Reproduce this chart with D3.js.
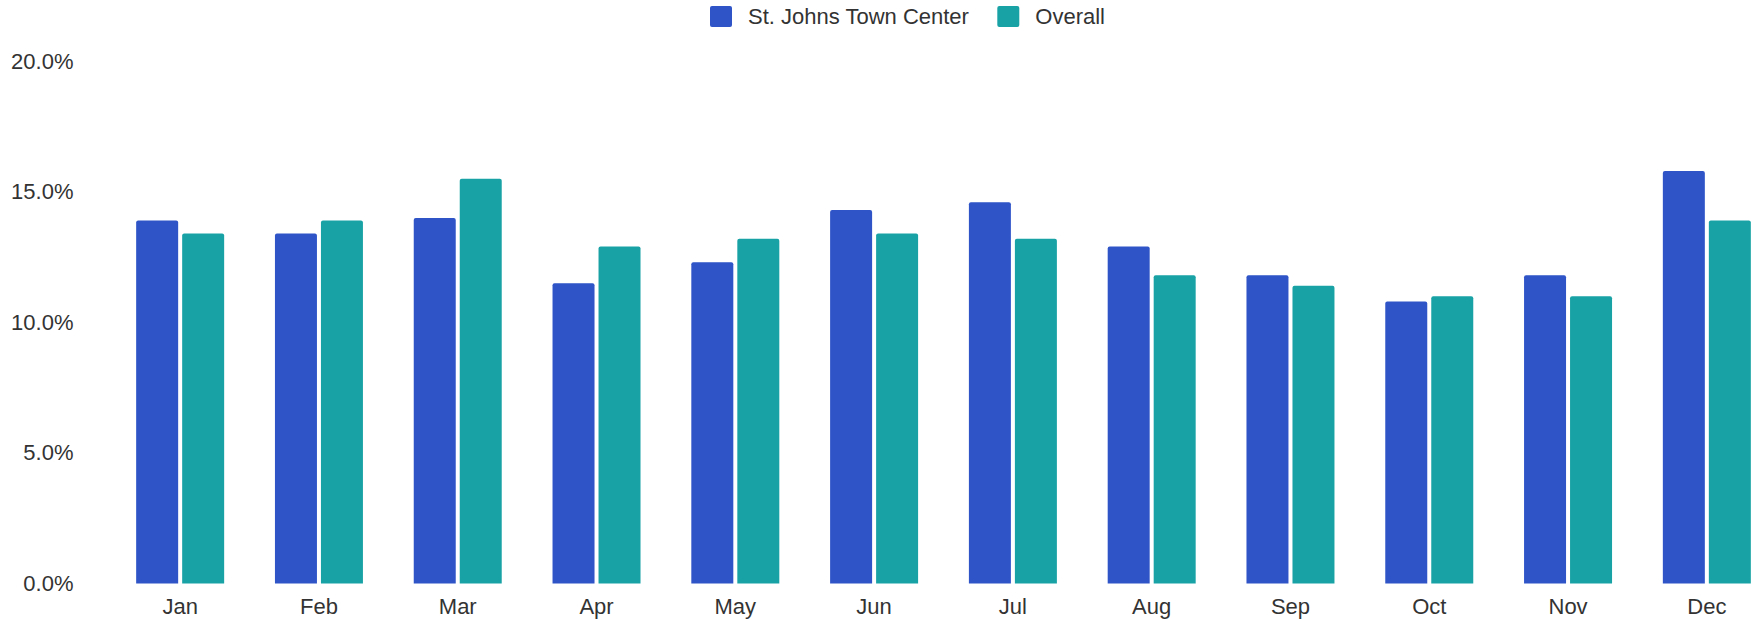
<!DOCTYPE html>
<html>
<head>
<meta charset="utf-8">
<script src="https://cdn.jsdelivr.net/npm/d3@7"></script>
<style>
  body { margin: 0; background: #fff; }
  text { font-family: Arial, "Liberation Sans", sans-serif; fill: #333; }
</style>
</head>
<body>
<svg width="1755" height="619"></svg>
<script>
var months = ["Jan", "Feb", "Mar", "Apr", "May", "Jun", "Jul", "Aug", "Sep", "Oct", "Nov", "Dec"];
var seriesNames = ["St. Johns Town Center", "Overall"];
var townCenter = [13.9, 13.4, 14.0, 11.5, 12.3, 14.3, 14.6, 12.9, 11.8, 10.8, 11.8, 15.8];
var overall = [13.4, 13.9, 15.5, 12.9, 13.2, 13.4, 13.2, 11.8, 11.4, 11.0, 11.0, 13.9];
var yTicks = [0, 5, 10, 15, 20];
var colors = ["#2e54c8", "#19a2a5"];

var svg = d3.select("svg"),
  width = +svg.attr("width"),
  height = +svg.attr("height")

var x = d3.scaleBand().domain(months).range([132, width]).paddingInner(0.366).paddingOuter(0.03);
var xs = d3.scaleBand().domain(seriesNames).range([0, x.bandwidth()]).paddingInner(0.087);
var y = d3.scaleLinear().domain([0, 20]).range([583.5, 61.2]);

// y axis labels only, no line, no grid
var yAxis = d3.axisLeft(y).tickValues(yTicks).tickSize(0).tickPadding(0)
  .tickFormat(function (d) { return d.toFixed(1) + "%"; });
var gy = svg.append("g").attr("transform", "translate(73.5,0)").call(yAxis);
gy.select(".domain").remove();
gy.attr("font-size", null).attr("font-family", null);
gy.selectAll("text").attr("font-size", 22);

var xAxis = d3.axisBottom(x).tickSize(0).tickPadding(0);
var gx = svg.append("g").attr("transform", "translate(0,598)").call(xAxis);
gx.select(".domain").remove();
gx.attr("font-size", null).attr("font-family", null);
gx.selectAll("text").attr("font-size", 22);

// bars with rounded top corners
function topRounded(x0, y0, w, h, r) {
  r = Math.min(r, h);
  return "M" + x0 + "," + (y0 + h) +
    "V" + (y0 + r) + "Q" + x0 + "," + y0 + " " + (x0 + r) + "," + y0 +
    "H" + (x0 + w - r) + "Q" + (x0 + w) + "," + y0 + " " + (x0 + w) + "," + (y0 + r) +
    "V" + (y0 + h) + "Z";
}

var rows = months.map(function (m, i) {
  return { month: m, values: [
    { key: seriesNames[0], value: townCenter[i] },
    { key: seriesNames[1], value: overall[i] }
  ] };
});

var groups = svg.append("g").selectAll("g")
  .data(rows)
  .enter()
  .append("g")
  .attr("transform", function (d) { return "translate(" + x(d.month) + ",0)"; });

groups.selectAll("path")
  .data(function (d) { return d.values; })
  .enter()
  .append("path")
  .attr("fill", function (d, i) { return colors[i]; })
  .attr("d", function (d) {
    return topRounded(xs(d.key), y(d.value), xs.bandwidth(), y(0) - y(d.value), 2);
  });

// legend
var legend = svg.append("g");
var legendX = [710, 997.3];
seriesNames.forEach(function (name, i) {
  legend.append("rect")
    .attr("x", legendX[i]).attr("y", 6)
    .attr("width", 22).attr("height", 21)
    .attr("rx", 2)
    .attr("fill", colors[i]);
  legend.append("text")
    .attr("x", legendX[i] + 38).attr("y", 16.5)
    .attr("dy", "0.35em")
    .attr("font-size", 22)
    .text(name);
});
</script>
</body>
</html>
